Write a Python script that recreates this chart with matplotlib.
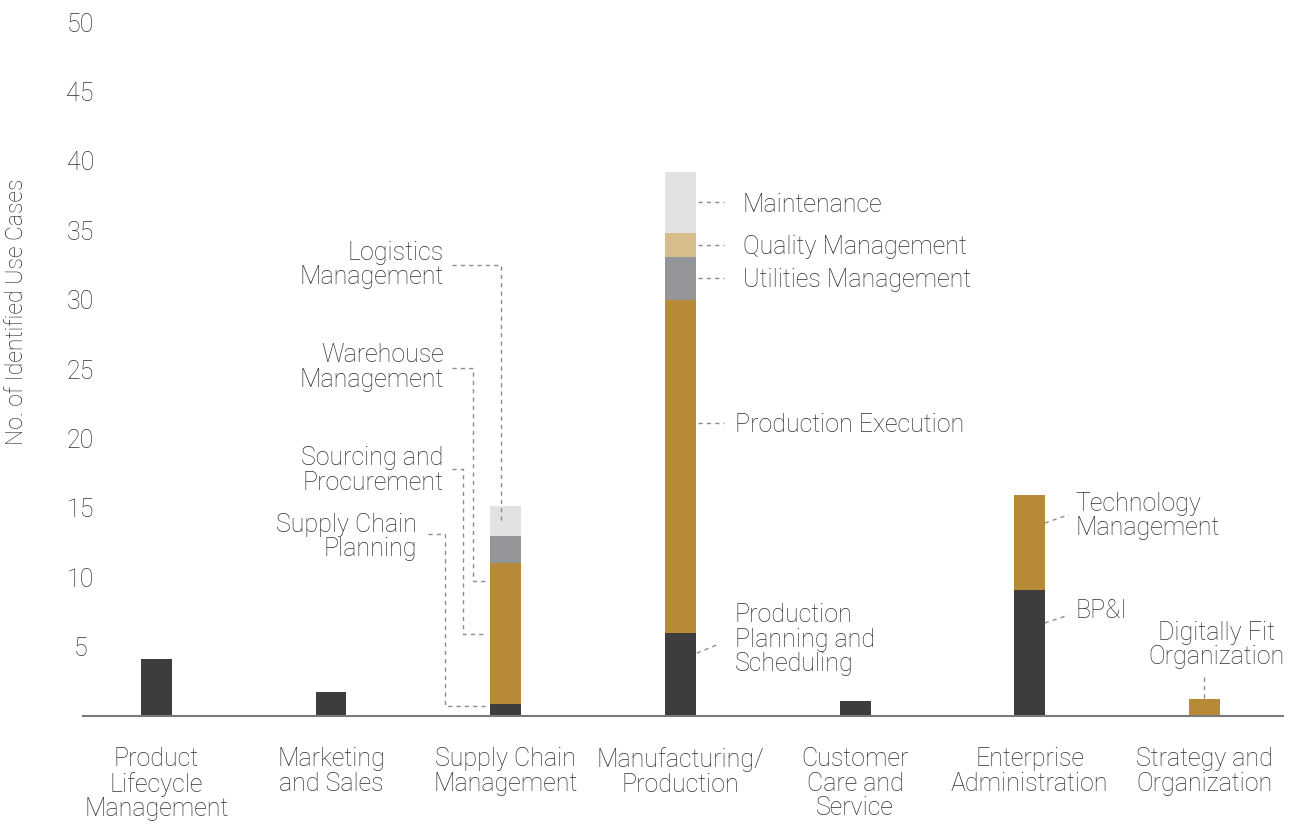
import numpy as np
import matplotlib.pyplot as plt

plt.rcParams['font.family'] = ['Roboto', 'DejaVu Sans']
plt.rcParams['font.weight'] = 'light'
plt.rcParams['axes.labelweight'] = 'light'

categories = ["Product\nLifecycle\nManagement", "Marketing\nand Sales",
              "Supply Chain\nManagement", "Manufacturing/\nProduction",
              "Customer\nCare and\nService", "Enterprise\nAdministration",
              "Strategy and\nOrganization"]

# stacked segments, bottom to top
seg_dark = [4.1, 1.7, 0.9, 6.0, 1.1, 9.1, 0.0]
seg_gold = [0.0, 0.0, 10.1, 24.0, 0.0, 6.8, 1.2]
seg_gray = [0.0, 0.0, 2.0, 3.1, 0.0, 0.0, 0.0]
seg_tan = [0.0, 0.0, 0.0, 1.7, 0.0, 0.0, 0.0]
seg_light = [0.0, 0.0, 2.1, 4.4, 0.0, 0.0, 0.0]

y_ticks = [5, 10, 15, 20, 25, 30, 35, 40, 45, 50]

colors = ["#3d3d3d", "#b68a37", "#939598", "#d8bd8c", "#e1e2e4"]
text_col = "#2e2e2e"
line_col = "#8c8c8c"
fs = 18
ls = 1.03

fig = plt.figure(figsize=(13.04, 8.24), dpi=100)
ax = fig.add_axes([83 / 1304, 108 / 824, 1200 / 1304, 694 / 824])

x = np.arange(len(categories))
width = 0.177
bottom = np.zeros(len(categories))
tops = []
for vals, col in zip([seg_dark, seg_gold, seg_gray, seg_tan, seg_light], colors):
    vals = np.array(vals)
    ax.bar(x, vals, width, bottom=bottom, color=col, linewidth=0, zorder=2)
    bottom = bottom + vals
    tops.append(bottom.copy())

ax.set_xlim(-0.42, 6.45)
ax.set_ylim(0, 50)
ax.set_yticks(y_ticks)
ax.set_yticklabels([str(t) for t in y_ticks])
for lab in ax.get_yticklabels():
    lab.set_horizontalalignment("center")
ax.tick_params(axis="y", length=0, pad=2, labelsize=fs, labelcolor=text_col)
ax.set_xticks(x)
ax.set_xticklabels(categories, linespacing=ls)
ax.tick_params(axis="x", length=0, pad=22.5, labelsize=fs, labelcolor=text_col)

for s in ["left", "right", "top"]:
    ax.spines[s].set_visible(False)
ax.spines["bottom"].set_color("#7a7a7a")
ax.spines["bottom"].set_linewidth(1.5)

ax.set_ylabel("No. of Identified Use Cases", fontsize=16.6, color=text_col)
ax.yaxis.set_label_coords(-0.046, 0.582)


def connector(xs, ys):
    ax.plot(xs, ys, color=line_col, lw=1, dashes=(3, 3), clip_on=False, zorder=3)


def label(xp, yp, txt, ha="left"):
    ax.text(xp, yp, txt, ha=ha, va="center", fontsize=fs, color=text_col,
            linespacing=ls)


# supply chain callouts
label(1.646, 32.5, "Logistics\nManagement", ha="right")
connector([1.69, 1.975, 1.975], [32.5, 32.5, 14.0])
label(1.646, 25.1, "Warehouse\nManagement", ha="right")
connector([1.69, 1.81, 1.81, 1.89], [25.1, 25.1, 9.7, 9.7])
label(1.646, 17.7, "Sourcing and\nProcurement", ha="right")
connector([1.69, 1.754, 1.754, 1.89], [17.8, 17.8, 5.9, 5.9])
label(1.49, 12.9, "Supply Chain\nPlanning", ha="right")
connector([1.555, 1.651, 1.651, 1.89], [13.1, 13.1, 0.72, 0.72])

# manufacturing callouts, set at the middle of each segment
m = 3
for lo, hi, txt in [(tops[3][m], tops[4][m], "Maintenance"),
                    (tops[2][m], tops[3][m], "Quality Management"),
                    (tops[1][m], tops[2][m], "Utilities Management")]:
    ymid = (lo + hi) / 2
    connector([3.1, 3.25], [ymid, ymid])
    label(3.357, ymid - 0.15, txt)
connector([3.1, 3.25], [21.1, 21.1])
label(3.31, 21.0, "Production Execution")
connector([3.094, 3.22], [4.53, 5.18])
label(3.31, 5.5, "Production\nPlanning and\nScheduling")

# enterprise administration callouts
connector([5.086, 5.223], [13.9, 14.5])
label(5.263, 14.4, "Technology\nManagement")
connector([5.086, 5.223], [6.7, 7.27])
label(5.263, 7.6, "BP&I")

# strategy callout
connector([6.0, 6.0], [1.3, 2.95])
ax.text(6.07, 5.1, "Digitally Fit\nOrganization", ha="center", va="center",
        fontsize=fs, color=text_col, linespacing=ls)

fig.savefig("out.png", dpi=100)
